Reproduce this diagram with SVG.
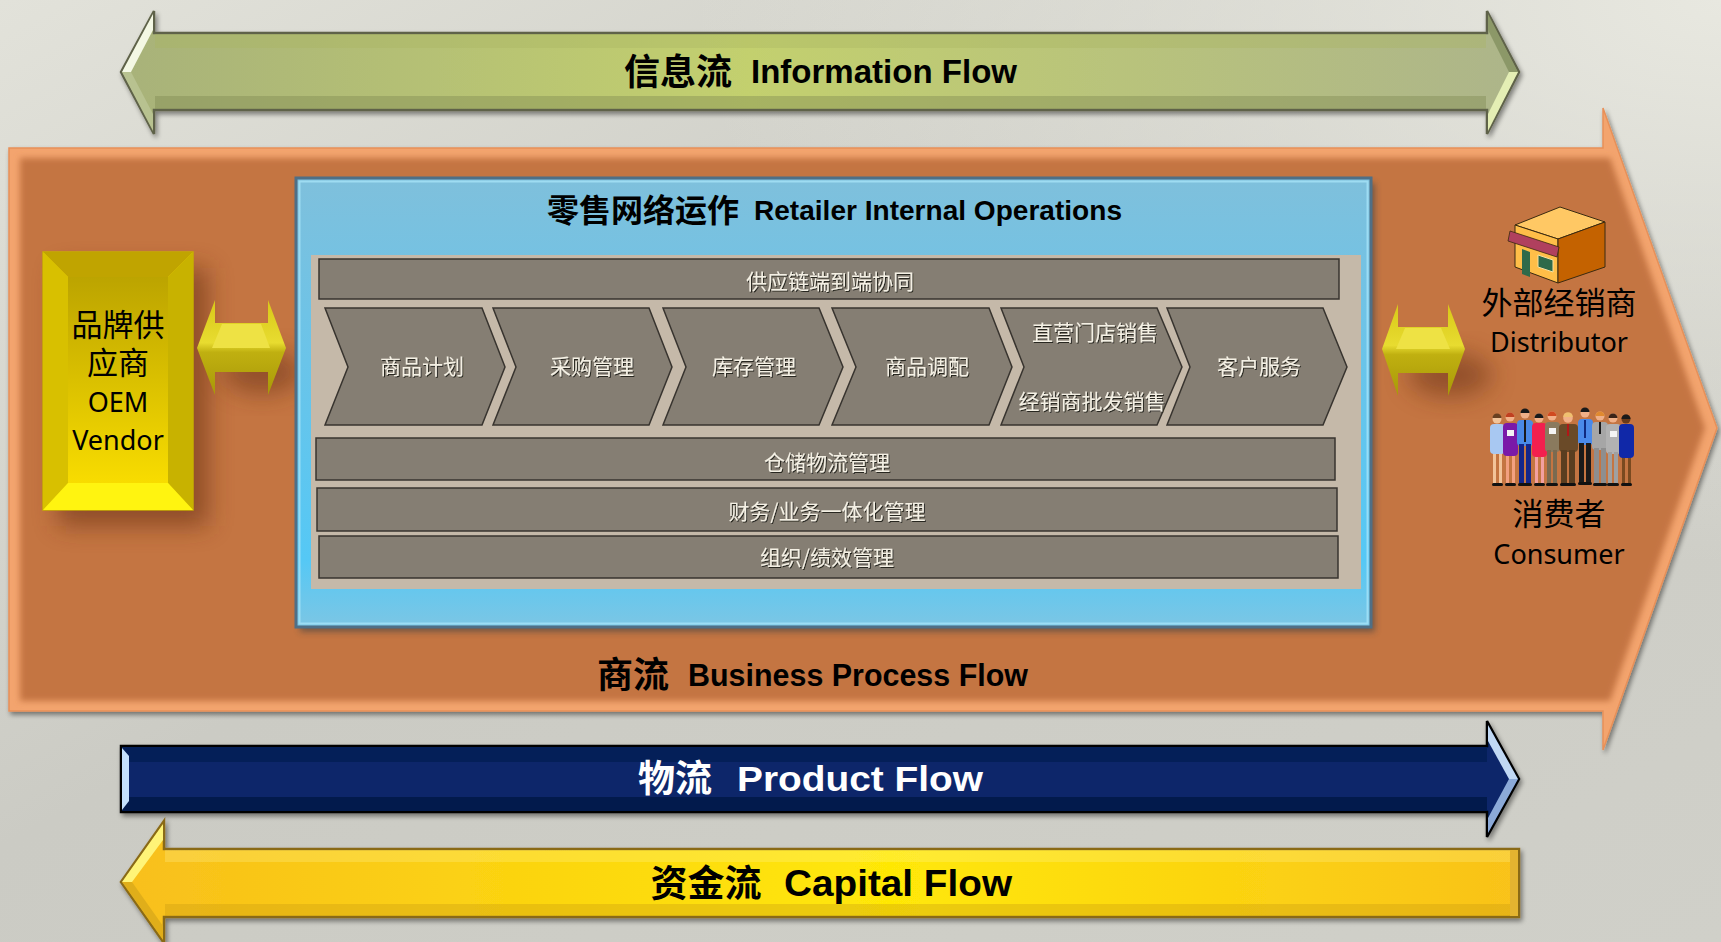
<svg xmlns="http://www.w3.org/2000/svg" width="1721" height="942" viewBox="0 0 1721 942">
  <defs>
    <linearGradient id="bg" x1="0" y1="0" x2="1" y2="1">
      <stop offset="0" stop-color="#e2e2da"/>
      <stop offset="0.45" stop-color="#cbcbc4"/>
      <stop offset="1" stop-color="#d0d0c9"/>
    </linearGradient>
    <radialGradient id="bgHi" cx="1" cy="0" r="0.6">
      <stop offset="0" stop-color="#e8e8e0" stop-opacity="1"/>
      <stop offset="1" stop-color="#e8e8e0" stop-opacity="0"/>
    </radialGradient>
    <linearGradient id="infoFill" x1="0" y1="0" x2="1" y2="0">
      <stop offset="0" stop-color="#a8b27a"/>
      <stop offset="0.45" stop-color="#c3d06e"/>
      <stop offset="1" stop-color="#adb58a"/>
    </linearGradient>
    <linearGradient id="capFill" x1="0" y1="0" x2="1" y2="0">
      <stop offset="0" stop-color="#f8bf1c"/>
      <stop offset="0.55" stop-color="#ffe806"/>
      <stop offset="1" stop-color="#f9c21a"/>
    </linearGradient>
    <linearGradient id="blueBox" x1="0" y1="0" x2="0" y2="1">
      <stop offset="0" stop-color="#7fc0dc"/>
      <stop offset="0.3" stop-color="#6fc3e6"/>
      <stop offset="0.85" stop-color="#55c8f5"/>
      <stop offset="1" stop-color="#7cc6e4"/>
    </linearGradient>
    <linearGradient id="vendFace" x1="0" y1="0" x2="0" y2="1">
      <stop offset="0" stop-color="#bca400"/>
      <stop offset="1" stop-color="#f8dc00"/>
    </linearGradient>
    <linearGradient id="yArrow" x1="0" y1="0" x2="0" y2="1">
      <stop offset="0" stop-color="#d8c818"/>
      <stop offset="0.45" stop-color="#e8dc30"/>
      <stop offset="0.55" stop-color="#c0b010"/>
      <stop offset="1" stop-color="#a89808"/>
    </linearGradient>
    <filter id="shadow" x="-5%" y="-20%" width="112%" height="160%">
      <feGaussianBlur in="SourceAlpha" stdDeviation="2.5"/>
      <feOffset dx="2" dy="3"/>
      <feComponentTransfer><feFuncA type="linear" slope="0.45"/></feComponentTransfer>
      <feMerge><feMergeNode/><feMergeNode in="SourceGraphic"/></feMerge>
    </filter>
    <filter id="soft" x="-5%" y="-5%" width="110%" height="110%">
      <feGaussianBlur stdDeviation="3"/>
    </filter>
    <filter id="bigBlur" x="-50%" y="-50%" width="200%" height="200%">
      <feGaussianBlur stdDeviation="12"/>
    </filter>
    <filter id="emboss" x="-5%" y="-20%" width="110%" height="140%">
      <feDropShadow dx="1" dy="1" stdDeviation="0.4" flood-color="#1e1a16" flood-opacity="0.9"/>
    </filter>
  </defs>
  <style>
    .title-cn { font-family: "Noto Sans CJK SC", sans-serif; font-weight: 700; fill: #000; }
    .title-en { font-family: "Liberation Sans", Arial, sans-serif; font-weight: 700; fill: #000; }
    .label { font-family: "Noto Sans", "Noto Sans CJK SC", sans-serif; font-size: 27px; fill: #000; text-anchor: middle; }
    .label-cn { font-family: "Noto Sans CJK SC", sans-serif; font-size: 31px; fill: #000; text-anchor: middle; }
    .op { fill: #857e73; stroke: #38342f; stroke-width: 1.5; }
    .op-text { font-family: "Noto Sans CJK SC", sans-serif; font-size: 21px; fill: #f4f0e4; text-anchor: middle; filter: url(#emboss); }
  </style>

  <!-- backdrop -->
  <rect x="0" y="0" width="1721" height="942" fill="url(#bg)"/>
  <rect x="0" y="0" width="1721" height="942" fill="url(#bgHi)"/>

  <!-- business process flow: large orange arrow -->
  <g id="business-flow">
    <polygon points="9,148 1603,148 1603,108 1717,428 1603,750 1603,711 9,711" fill="#f3a46e" stroke="#e89058" stroke-width="1.5" filter="url(#shadow)"/>
    <polygon points="20,158 1610,158 1705,428 1610,701 20,701" fill="#c47442" filter="url(#soft)"/>
    <text class="title-cn" x="633" y="688" font-size="36" text-anchor="middle">商流</text>
    <text class="title-en" x="688" y="686" font-size="31" textLength="340" lengthAdjust="spacingAndGlyphs">Business Process Flow</text>
  </g>

  <!-- information flow: double-headed green arrow -->
  <g id="information-flow">
    <polygon points="121,72 154,11 154,33 1487,33 1487,11 1519,72 1487,134 1487,110 154,110 154,134" fill="url(#infoFill)" stroke="#5e6248" stroke-width="2.5" filter="url(#shadow)"/>
    <rect x="155" y="34" width="1331" height="14" fill="#a8b462" opacity="0.35"/>
    <rect x="155" y="96" width="1331" height="13" fill="#7e8650" opacity="0.4"/>
    <polygon points="122,72 153,14 153,30 131,72" fill="#f4f8e4"/>
    <polygon points="122,72 131,72 153,114 153,131" fill="#b8c290"/>
    <polygon points="1518,72 1488,14 1488,30 1509,72" fill="#8c9868"/>
    <polygon points="1518,72 1509,72 1488,114 1488,131" fill="#e4eeb4"/>
    <text class="title-cn" x="678" y="85" font-size="36" text-anchor="middle">信息流</text>
    <text class="title-en" x="751" y="83" font-size="33" textLength="266" lengthAdjust="spacingAndGlyphs">Information Flow</text>
  </g>

  <!-- OEM vendor block -->
  <g id="vendor">
    <rect x="58" y="268" width="150" height="258" fill="#6a3216" opacity="0.6" filter="url(#bigBlur)"/>
    <rect x="43" y="252" width="150" height="258" fill="#e8cc00" stroke="#c8b000" stroke-width="1.5"/>
    <polygon points="43,252 193,252 168,277 68,277" fill="#c0a400"/>
    <polygon points="43,252 68,277 68,483 43,510" fill="#d8c000"/>
    <polygon points="193,252 193,510 168,483 168,277" fill="#c8b200"/>
    <polygon points="43,510 68,483 168,483 193,510" fill="#fff410"/>
    <rect x="68" y="277" width="100" height="206" fill="url(#vendFace)"/>
    <text class="label-cn" x="118" y="336" font-size="30">品牌供</text>
    <text class="label-cn" x="118" y="374" font-size="30">应商</text>
    <text class="label" x="118" y="412">OEM</text>
    <text class="label" x="118" y="450">Vendor</text>
  </g>

  <!-- vendor link arrow -->
  <g id="vendor-link">
    <ellipse cx="262" cy="372" rx="40" ry="22" fill="#6a3216" opacity="0.55" filter="url(#bigBlur)"/>
    <polygon points="197,348 215,300 215,323 268,323 268,300 286,348 268,395 268,372 215,372 215,395" fill="url(#yArrow)"/>
    <polygon points="222,324 261,324 270,348 212,348" fill="#eee244"/>
  </g>

  <!-- retailer internal operations panel -->
  <g id="retailer">
    <rect x="300" y="183" width="1075" height="449" fill="#2a3a44" opacity="0.5" filter="url(#soft)"/>
    <rect x="296" y="178" width="1075" height="449" fill="url(#blueBox)" stroke="#4f6f86" stroke-width="3"/>
    <rect x="299.5" y="181.5" width="1068" height="442" fill="none" stroke="#a6e2f8" stroke-width="2" opacity="0.8"/>
    <text class="title-cn" x="643" y="222" font-size="32" text-anchor="middle">零售网络运作</text>
    <text class="title-en" x="754" y="220" font-size="28" textLength="368" lengthAdjust="spacingAndGlyphs">Retailer Internal Operations</text>
    <rect x="311" y="255" width="1050" height="334" fill="#c5b9a9"/>
  </g>

  <g id="op-supply-chain">
    <rect class="op" x="319" y="259" width="1020" height="40"/>
    <text class="op-text" x="830" y="289">供应链端到端协同</text>
  </g>
  <g id="op-plan">
    <polygon class="op" points="325,308 482,308 505,367 482,425 325,425 348,367"/>
    <text class="op-text" x="422" y="374">商品计划</text>
  </g>
  <g id="op-purchase">
    <polygon class="op" points="493,308 649,308 672,367 649,425 493,425 516,367"/>
    <text class="op-text" x="592" y="374">采购管理</text>
  </g>
  <g id="op-inventory">
    <polygon class="op" points="663,308 819,308 843,367 819,425 663,425 686,367"/>
    <text class="op-text" x="754" y="374">库存管理</text>
  </g>
  <g id="op-allocation">
    <polygon class="op" points="832,308 989,308 1012,367 989,425 832,425 856,367"/>
    <text class="op-text" x="927" y="374">商品调配</text>
  </g>
  <g id="op-sales">
    <polygon class="op" points="1001,308 1157,308 1182,367 1157,425 1001,425 1024,367"/>
    <text class="op-text" x="1095" y="340">直营门店销售</text>
    <text class="op-text" x="1092" y="409">经销商批发销售</text>
  </g>
  <g id="op-service">
    <polygon class="op" points="1167,308 1323,308 1347,367 1323,425 1167,425 1190,367"/>
    <text class="op-text" x="1259" y="374">客户服务</text>
  </g>
  <g id="op-logistics">
    <rect class="op" x="316" y="438" width="1019" height="42"/>
    <text class="op-text" x="827" y="470">仓储物流管理</text>
  </g>
  <g id="op-finance">
    <rect class="op" x="317" y="488" width="1020" height="43"/>
    <text class="op-text" x="827" y="519">财务/业务一体化管理</text>
  </g>
  <g id="op-organisation">
    <rect class="op" x="319" y="536" width="1019" height="42"/>
    <text class="op-text" x="827" y="565">组织/绩效管理</text>
  </g>

  <!-- customer-side link arrow -->
  <g id="customer-link">
    <ellipse cx="1450" cy="375" rx="42" ry="22" fill="#6a3216" opacity="0.55" filter="url(#bigBlur)"/>
    <polygon points="1382,349 1398,304 1398,327 1448,327 1448,304 1465,349 1448,396 1448,373 1398,373 1398,396" fill="url(#yArrow)"/>
    <polygon points="1405,328 1441,328 1450,349 1396,349" fill="#eee244"/>
  </g>

  <!-- distributor -->
  <g id="distributor">
    <polygon points="1515,225 1560,207 1605,222 1558,239" fill="#ffc864" stroke="#3a2a10" stroke-width="1"/>
    <polygon points="1515,225 1558,239 1558,283 1515,267" fill="#ffbe48" stroke="#3a2a10" stroke-width="1"/>
    <polygon points="1558,239 1605,222 1605,267 1558,283" fill="#c46200" stroke="#3a2a10" stroke-width="1"/>
    <polygon points="1522,249 1530,252 1530,277 1522,274" fill="#2e6a4a"/>
    <polygon points="1538,255 1553,260 1553,272 1538,267" fill="#2e6a4a" stroke="#f8e0a0" stroke-width="1"/>
    <polygon points="1510,231 1559,247 1557,257 1508,241" fill="#b0405e" stroke="#3a2a10" stroke-width="0.8"/>
    <text class="label-cn" x="1559" y="314">外部经销商</text>
    <text class="label" x="1559" y="352">Distributor</text>
  </g>

  <!-- consumers -->
  <g id="consumer">
    <g id="crowd">
      <!-- figure 1 -->
      <rect x="1493" y="441" width="3" height="43" fill="#f2c49a"/><rect x="1499" y="441" width="3" height="43" fill="#f2c49a"/>
      <rect x="1490" y="424" width="15" height="30" rx="4" fill="#a8c8f2"/>
      <circle cx="1497" cy="419" r="4.5" fill="#f2c49a"/><path d="M1492.5,418 a4.5,4.5 0 0 1 9,0 z" fill="#6a4020"/>
      <!-- figure 2 -->
      <rect x="1506" y="446" width="3" height="38" fill="#f2a080"/><rect x="1512" y="446" width="3" height="38" fill="#f2a080"/>
      <rect x="1503" y="423" width="15" height="33" rx="4" fill="#7a1aa8"/>
      <rect x="1507" y="430" width="7" height="6" fill="#f4f4f4"/>
      <circle cx="1510" cy="417" r="4.5" fill="#f2b088"/><path d="M1505.5,417 a4.5,4.5 0 0 1 9,0 z" fill="#c04020"/>
      <!-- figure 3 -->
      <rect x="1517" y="420" width="16" height="26" rx="4" fill="#4a8ae6"/>
      <rect x="1519" y="444" width="5" height="40" fill="#14268a"/><rect x="1526" y="444" width="5" height="40" fill="#14268a"/>
      <rect x="1524" y="420" width="2" height="22" fill="#1a1a1a"/>
      <circle cx="1525" cy="414" r="4.5" fill="#f0b088"/><path d="M1520.5,413 a4.5,4.5 0 0 1 9,0 z" fill="#1a1a1a"/>
      <!-- figure 4 -->
      <rect x="1535" y="448" width="3" height="36" fill="#f2a0a0"/><rect x="1541" y="448" width="3" height="36" fill="#f2a0a0"/>
      <rect x="1532" y="423" width="15" height="34" rx="4" fill="#f2204e"/>
      <circle cx="1539" cy="418" r="4.5" fill="#f2b088"/><path d="M1534.5,418 a4.5,4.5 0 0 1 9,0 z" fill="#1a1a1a"/>
      <!-- figure 5 -->
      <rect x="1545" y="422" width="15" height="30" rx="4" fill="#8a7a5e"/>
      <rect x="1547" y="450" width="4" height="34" fill="#7a6a50"/><rect x="1553" y="450" width="4" height="34" fill="#7a6a50"/>
      <rect x="1549" y="428" width="7" height="6" fill="#f4f4f4"/>
      <circle cx="1552" cy="416" r="4.5" fill="#f2b088"/><path d="M1547.5,416 a4.5,4.5 0 0 1 9,0 z" fill="#d04a20"/>
      <!-- figure 6 -->
      <rect x="1559" y="424" width="19" height="28" rx="4" fill="#6a4a28"/>
      <rect x="1561" y="450" width="6" height="34" fill="#5a3e20"/><rect x="1569" y="450" width="6" height="34" fill="#5a3e20"/>
      <rect x="1567" y="424" width="2" height="12" fill="#b01818"/>
      <circle cx="1568" cy="418" r="4.8" fill="#f2b088"/><path d="M1563.2,417 a4.8,4.8 0 0 1 9.6,0 z" fill="#f0c070"/>
      <!-- figure 7 -->
      <rect x="1578" y="419" width="15" height="26" rx="4" fill="#4a8aea"/>
      <rect x="1579" y="443" width="5" height="40" fill="#1a1a1a"/><rect x="1586" y="443" width="5" height="40" fill="#1a1a1a"/>
      <rect x="1584" y="420" width="2" height="18" fill="#102a80"/>
      <circle cx="1585" cy="413" r="4.5" fill="#f0b088"/><path d="M1580.5,412 a4.5,4.5 0 0 1 9,0 z" fill="#1a1a1a"/>
      <!-- figure 8 -->
      <rect x="1592" y="422" width="16" height="28" rx="4" fill="#a6a6a6"/>
      <rect x="1594" y="448" width="5" height="36" fill="#8e8e8e"/><rect x="1601" y="448" width="5" height="36" fill="#8e8e8e"/>
      <rect x="1599" y="422" width="2" height="12" fill="#1a1a1a"/>
      <circle cx="1600" cy="416" r="4.5" fill="#f0b088"/><path d="M1595.5,416 a4.5,4.5 0 0 1 9,0 z" fill="#e08a30"/>
      <!-- figure 9 -->
      <rect x="1606" y="424" width="15" height="30" rx="4" fill="#b2b2b2"/>
      <rect x="1608" y="452" width="4" height="32" fill="#a0a0a0"/><rect x="1614" y="452" width="4" height="32" fill="#a0a0a0"/>
      <rect x="1610" y="431" width="7" height="6" fill="#f4f4f4"/>
      <circle cx="1613" cy="418" r="4.5" fill="#f0b088"/><path d="M1608.5,418 a4.5,4.5 0 0 1 9,0 z" fill="#3a2418"/>
      <!-- figure 10 -->
      <rect x="1622" y="450" width="3" height="34" fill="#7a4a20"/><rect x="1628" y="450" width="3" height="34" fill="#7a4a20"/>
      <rect x="1619" y="424" width="15" height="34" rx="4" fill="#1028a8"/>
      <circle cx="1626" cy="419" r="4.5" fill="#6a3a18"/><path d="M1621.5,419 a4.5,4.5 0 0 1 9,0 z" fill="#1a1a1a"/>
      <!-- shoes -->
      <g fill="#111">
        <rect x="1492" y="483" width="11" height="3" rx="1.5"/>
        <rect x="1505" y="483" width="11" height="3" rx="1.5"/>
        <rect x="1518" y="483" width="14" height="3" rx="1.5"/>
        <rect x="1534" y="483" width="11" height="3" rx="1.5"/>
        <rect x="1546" y="483" width="12" height="3" rx="1.5"/>
        <rect x="1560" y="483" width="16" height="3" rx="1.5"/>
        <rect x="1578" y="482" width="14" height="3" rx="1.5"/>
        <rect x="1593" y="483" width="14" height="3" rx="1.5"/>
        <rect x="1607" y="483" width="12" height="3" rx="1.5"/>
        <rect x="1621" y="483" width="11" height="3" rx="1.5"/>
      </g>
    </g>
    <text class="label-cn" x="1559" y="525">消费者</text>
    <text class="label" x="1559" y="564">Consumer</text>
  </g>

  <!-- product flow: blue arrow -->
  <g id="product-flow">
    <polygon points="121,746 1487,746 1487,721 1519,779 1487,837 1487,812 121,812" fill="#08276a" stroke="#000" stroke-width="2.5" filter="url(#shadow)"/>
    <rect x="122" y="747" width="1365" height="15" fill="#041f58"/>
    <rect x="122" y="797" width="1365" height="14" fill="#021a4c"/>
    <polygon points="122,748 129,756 129,801 122,810" fill="#c4e0fc"/>
    <polygon points="1488,725 1518,779 1509,779 1488,741" fill="#c0d8f4"/>
    <polygon points="1518,779 1488,833 1488,818 1509,779" fill="#8caad8"/>
    <text class="title-cn" x="675" y="792" font-size="37" text-anchor="middle" style="fill:#fff">物流</text>
    <text class="title-en" x="737" y="791" font-size="35" textLength="246" lengthAdjust="spacingAndGlyphs" style="fill:#fff">Product Flow</text>
  </g>

  <!-- capital flow: yellow arrow -->
  <g id="capital-flow">
    <polygon points="121,882 164,821 164,849 1519,849 1519,917 164,917 164,943" fill="url(#capFill)" stroke="#8a6a18" stroke-width="2.5" filter="url(#shadow)"/>
    <rect x="165" y="850" width="1345" height="12" fill="#fff6a0" opacity="0.25"/>
    <rect x="165" y="904" width="1345" height="12" fill="#c89a10" opacity="0.35"/>
    <rect x="1510" y="850" width="8" height="66" fill="#e4b430"/>
    <polygon points="122,882 163,824 163,840 132,882" fill="#fff478"/>
    <polygon points="122,882 132,882 163,926 163,940" fill="#e0ae1a"/>
    <text class="title-cn" x="706" y="897" font-size="37" text-anchor="middle">资金流</text>
    <text class="title-en" x="784" y="896" font-size="36" textLength="228" lengthAdjust="spacingAndGlyphs">Capital Flow</text>
  </g>
</svg>
